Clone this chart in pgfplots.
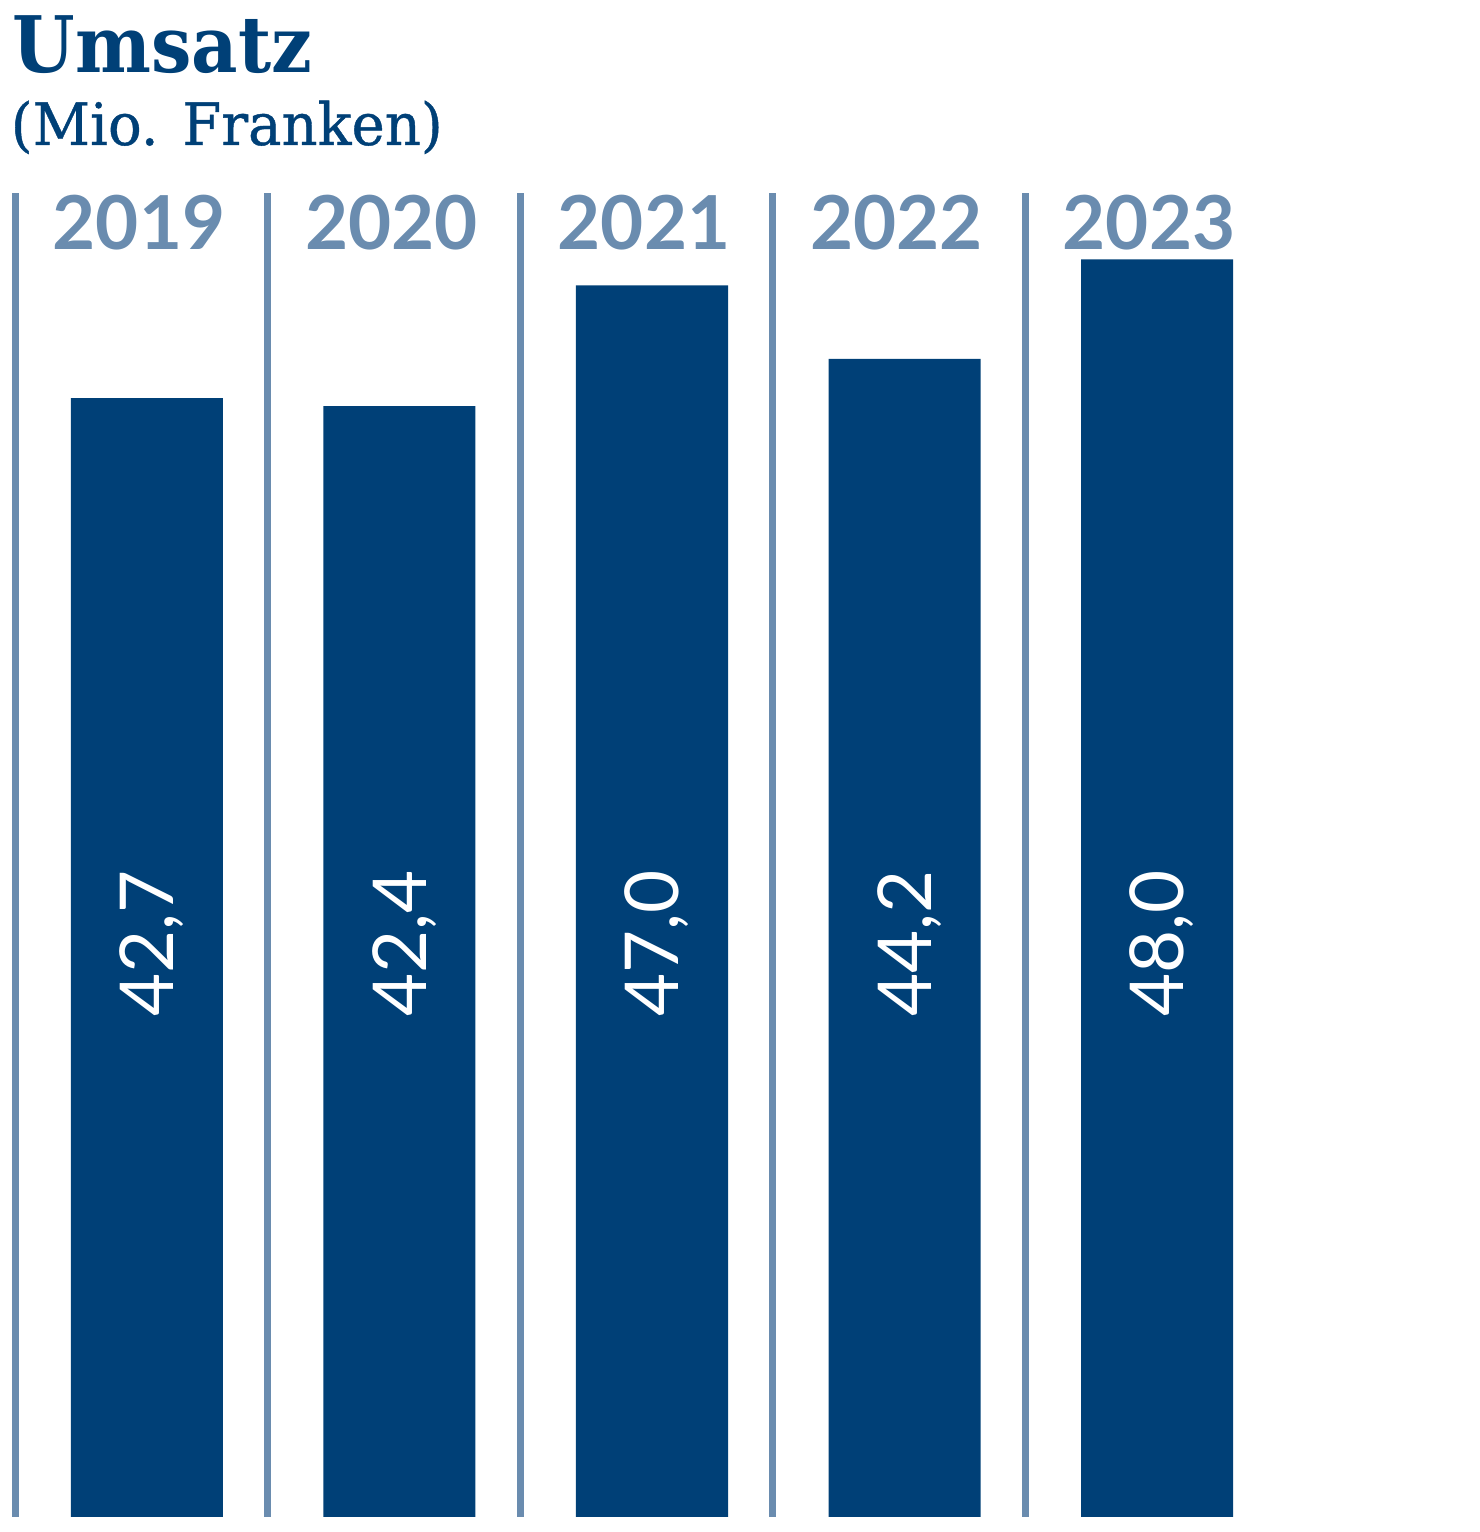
\documentclass[border=0pt]{standalone}
\usepackage{pgfplots}
\pgfplotsset{compat=1.18}
\usepackage{pgfplotstable}
\usepackage{fontspec}
\setmainfont{Lato}
\newfontfamily\slabtitle{DejaVu Serif}[FakeStretch=0.92]
\newfontfamily\slabsub{DejaVu Serif}[FakeStretch=0.96, FakeBold=0.7]
\newfontfamily\lato{Lato}
\definecolor{navy}{RGB}{0,64,119}
\definecolor{steel}{RGB}{106,140,175}

% Umsatz in Mio. Franken; ypos = height of the rotated value label
\pgfplotstableread{
x val lab ypos
0 42.7 42,7 21.9
1 42.4 42,4 21.9
2 47.0 47,0 21.9
3 44.2 44,2 21.9
4 48.0 48,0 21.9
}\umsatz

\begin{document}
\begin{tikzpicture}
\begin{axis}[name=ax, scale only axis, width=370pt, height=331pt,
  xmin=-0.582, xmax=5.279, ymin=0, ymax=50.53,
  axis line style={draw=none}, major tick length=0pt,
  ytick=\empty, xtick={0,...,4}, xticklabels={2019,2020,2021,2022,2023},
  xticklabel pos=right,
  x tick label style={font=\fontsize{18.6}{20}\lato\bfseries, text=steel,
    anchor=base east, xshift=19.8pt, yshift=-14.25pt, inner sep=0pt},
  extra x ticks={-0.522,0.478,1.478,2.478,3.478}, extra x tick labels={},
  extra x tick style={grid=major, major grid style={steel, line width=1.75pt}},
  clip=false]
\addplot[ybar, bar width=0.602, fill=navy, draw=none] table[x=x, y=val] {\umsatz};
\addplot[draw=none, mark=none, nodes near coords={\pgfplotspointmeta},
  point meta=explicit symbolic,
  nodes near coords style={anchor=center, rotate=90, text=white, inner sep=0pt,
    text depth=0pt, font=\fontsize{18.6}{20}\lato}]
  table[x=x, y=ypos, meta=lab] {\umsatz};
\end{axis}
\node[anchor=base west, inner sep=0pt, text=navy, font=\fontsize{19.5}{22}\slabtitle\bfseries]
  at ([xshift=3pt, yshift=30pt]ax.north west) {Umsatz};
\node[anchor=base west, inner sep=0pt, text=navy, font=\fontsize{14.6}{16}\slabsub]
  at ([xshift=2.5pt, yshift=12pt]ax.north west) {(Mio. Franken)};
\path ([yshift=48.25pt]ax.north west) rectangle ([yshift=-3.75pt]ax.south east);
\end{tikzpicture}
\end{document}
